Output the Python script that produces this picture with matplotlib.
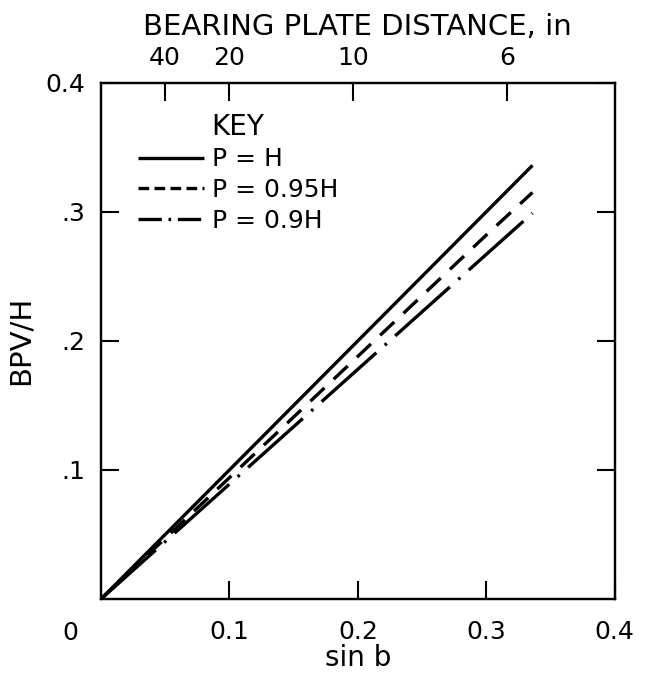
import numpy as np
import matplotlib
matplotlib.use("Agg")
import matplotlib.pyplot as plt
from matplotlib.lines import Line2D

plt.rcParams['font.family'] = ['DejaVu Sans']

# data
sin_b = [0.0, 0.1, 0.2, 0.3, 0.336]
bpv_p_h = [0.0, 0.100, 0.200, 0.300, 0.336]
bpv_p_095h = [0.0, 0.094, 0.188, 0.282, 0.315]
bpv_p_09h = [0.0, 0.089, 0.178, 0.267, 0.299]
series_labels = ["P = H", "P = 0.95H", "P = 0.9H"]

x_ticks = [0.1, 0.2, 0.3, 0.4]
x_ticklabels = ["0.1", "0.2", "0.3", "0.4"]
y_ticks = [0.1, 0.2, 0.3, 0.4]
y_ticklabels = [".1", ".2", ".3", "0.4"]
plate_distances = [40, 20, 10, 6]   # top axis, inches
plate_half_width = 2.0               # sin b = sin(atan(2/d))

fig = plt.figure(figsize=(6.56, 6.73), dpi=100)
ax = fig.add_axes([0.154, 0.110, 0.783, 0.767])

lw = 2.4
ax.plot(sin_b, bpv_p_h, color='black', lw=lw, solid_capstyle='butt')
ax.plot(sin_b, bpv_p_095h, color='black', lw=lw, dashes=(5.8, 3.8), dash_capstyle='butt')
ax.plot(sin_b, bpv_p_09h, color='black', lw=lw, dashes=(22, 3.4, 0.8, 3.4), dash_capstyle='butt')

ax.set_xlim(0, 0.4)
ax.set_ylim(0, 0.4)

ax.set_xticks(x_ticks)
ax.set_xticklabels(x_ticklabels)
ax.set_yticks(y_ticks)
ax.set_yticklabels(y_ticklabels)
ax.tick_params(axis='both', direction='in', length=13, width=1.5, labelsize=18)
ax.tick_params(axis='x', pad=15)
ax.tick_params(axis='y', pad=11, right=True)
for s in ax.spines.values():
    s.set_linewidth(1.6)

ax.text(-0.024, -0.026, "0", fontsize=18, ha='center', va='center',
        transform=ax.transData, clip_on=False)

ax.set_xlabel("sin b", fontsize=20, labelpad=0)
ax.set_ylabel("BPV/H", fontsize=21, labelpad=8)

# top axis: bearing plate distance
top = ax.twiny()
top.set_xlim(ax.get_xlim())
top_pos = [np.sin(np.arctan(plate_half_width / d)) for d in plate_distances]
top.set_xticks(top_pos)
top.set_xticklabels([str(d) for d in plate_distances])
top.tick_params(axis='x', direction='in', length=13, width=1.5, labelsize=18, pad=9)
for s in top.spines.values():
    s.set_linewidth(1.6)
top.set_xlabel("BEARING PLATE DISTANCE, in", fontsize=21, labelpad=8)

# legend
handles = [
    Line2D([], [], color='black', lw=lw, solid_capstyle='butt'),
    Line2D([], [], color='black', lw=lw, dashes=(3.2, 1.6), dash_capstyle='butt'),
    Line2D([], [], color='black', lw=lw, dashes=(7, 2, 0.8, 2), dash_capstyle='butt'),
]
leg = ax.legend(handles, series_labels, title="KEY", loc='upper left',
                bbox_to_anchor=(0.072, 0.942), frameon=False, fontsize=18,
                title_fontsize=20, borderpad=0, borderaxespad=0,
                handlelength=2.65, handletextpad=0.3, labelspacing=0.27)

fig.savefig("out.png", dpi=100)
